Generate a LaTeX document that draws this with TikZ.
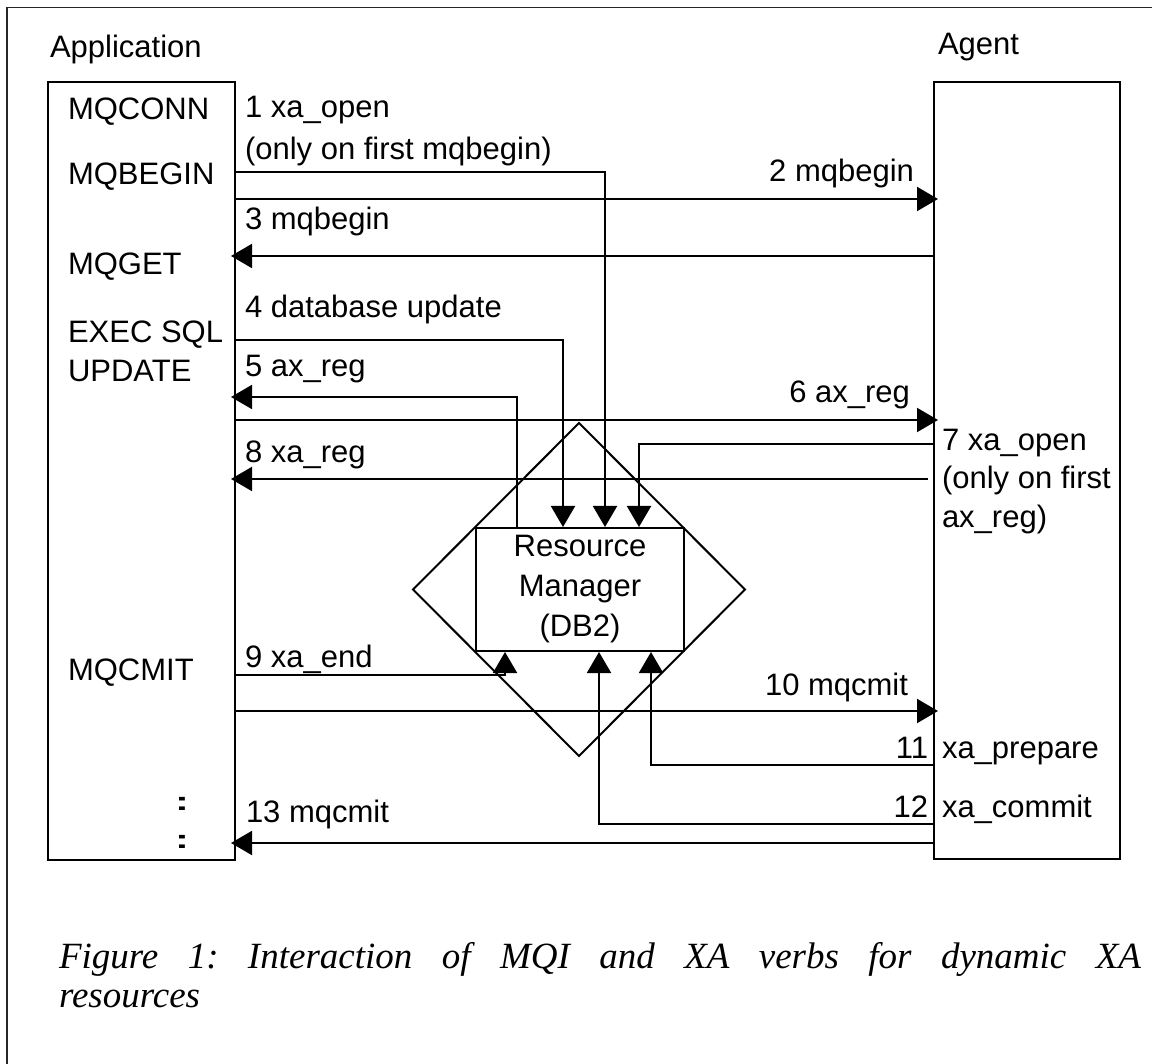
\documentclass[tikz,border=0pt]{standalone}
\usepackage{fontspec}
\setmainfont{Liberation Sans}
\newfontfamily\capfont{Liberation Serif}
\usetikzlibrary{arrows.meta}
\begin{document}
\begin{tikzpicture}[x=1pt,y=-1pt,
  line width=2pt,
  lbl/.style={inner sep=0pt, font=\fontsize{31}{40}\selectfont},
  dots/.style={inner sep=0pt, anchor=base, font=\fontsize{26}{26}\selectfont\bfseries},
  box/.style={draw, inner sep=0pt, line width=2pt},
  arr/.style={-{Triangle[length=21pt,width=24pt]}, line width=2pt},
  arrx/.style={arr, shorten >=-5pt}]
\useasboundingbox (0,0) rectangle (1152,1064);
\fill[white] (0,0) rectangle (1152,1064);
\draw[line width=1.5pt, black!85] (7,1064) -- (7,7.5) -- (1152,7.5);

% boxes
\node[box, minimum width=187pt, minimum height=778pt] (app) at (141.5,471) {};
\node[box, minimum width=186pt, minimum height=777pt] (agent) at (1027,470.5) {};
\coordinate (dt) at (579,423);
\coordinate (dr) at (745,589.5);
\coordinate (db) at (579,756);
\coordinate (dl) at (413,589.5);
\draw (dt) -- (dr) -- (db) -- (dl) -- cycle;
\node[box, fill=white, minimum width=208pt, minimum height=123pt, align=center,
      font=\fontsize{31}{40}\selectfont] (rm) at (580,589.5) {Resource\\Manager\\(DB2)};

% titles
\node[lbl, anchor=base west] (tapp) at (49,58) {Application};
\node[lbl, anchor=base west] (tagent) at (937,55) {Agent};

% application verbs
\node[lbl, anchor=base west] (v1) at (67,120) {MQCONN};
\node[lbl, anchor=base west] (v2) at (67,185) {MQBEGIN};
\node[lbl, anchor=base west] (v3) at (67,275) {MQGET};
\node[lbl, anchor=base west] (v4) at (67,343) {EXEC SQL};
\node[lbl, anchor=base west] (v4b) at (67,382) {UPDATE};
\node[lbl, anchor=base west] (v5) at (67,680) {MQCMIT};
\node[dots] (d1) at (182,810) {\scalebox{1.6}[1]{:}};
\node[dots] (d2) at (182,848) {\scalebox{1.6}[1]{:}};

% connectors
\draw[arr]  (app.east |- 0,172) -| (rm.north -| 605,0);
\draw[arrx] (app.east |- 0,199) -- (agent.west |- 0,199);
\draw[arrx] (agent.west |- 0,256) -- (app.east |- 0,256);
\draw[arr]  (app.east |- 0,340) -| (rm.north -| 563,0);
\draw[arrx] (rm.north -| 517,0) |- (app.east |- 0,397);
\draw[arrx] (app.east |- 0,420) -- (agent.west |- 0,420);
\draw[arr]  (agent.west |- 0,444) -| (rm.north -| 639,0);
\draw[arrx, shorten <=5pt] (agent.west |- 0,479) -- (app.east |- 0,479);
\draw[arr]  (app.east |- 0,675) -| (rm.south -| 505,0);
\draw[arrx] (app.east |- 0,711) -- (agent.west |- 0,711);
\draw[arr]  (agent.west |- 0,765) -| (rm.south -| 651,0);
\draw[arr]  (agent.west |- 0,824) -| (rm.south -| 599,0);
\draw[arrx] (agent.west |- 0,843) -- (app.east |- 0,843);

% connector labels
\node[lbl, anchor=base west] (l1) at (244,118) {1 xa\_open};
\node[lbl, anchor=base west] (l1b) at (244,160) {(only on first mqbegin)};
\node[lbl, anchor=base east] (l2) at (915,182) {2 mqbegin};
\node[lbl, anchor=base west] (l3) at (244,230) {3 mqbegin};
\node[lbl, anchor=base west] (l4) at (244,318) {4 database update};
\node[lbl, anchor=base west] (l5) at (244,377) {5 ax\_reg};
\node[lbl, anchor=base east] (l6) at (911,403) {6 ax\_reg};
\node[lbl, anchor=base west] (l7) at (941,451) {7 xa\_open};
\node[lbl, anchor=base west] (l7b) at (941,489) {(only on first};
\node[lbl, anchor=base west] (l7c) at (941,527) {ax\_reg)};
\node[lbl, anchor=base west] (l8) at (244,463) {8 xa\_reg};
\node[lbl, anchor=base west] (l9) at (244,667) {9 xa\_end};
\node[lbl, anchor=base east] (l10) at (909,695) {10 mqcmit};
\node[lbl, anchor=base east] (l11) at (929,758) {11};
\node[lbl, anchor=base west] (l11b) at (941,758) {xa\_prepare};
\node[lbl, anchor=base east] (l12) at (929,817) {12};
\node[lbl, anchor=base west] (l12b) at (941,817) {xa\_commit};
\node[lbl, anchor=base west] (l13) at (245,822) {13 mqcmit};

% caption
\node[inner sep=0pt, anchor=north west, text width=1082pt, align=justify,
      font=\capfont\itshape\fontsize{37}{39}\selectfont\frenchspacing] (cap) at (58,941)
  {Figure 1: Interaction of MQI and XA verbs for dynamic XA\linebreak resources};
\end{tikzpicture}
\end{document}
